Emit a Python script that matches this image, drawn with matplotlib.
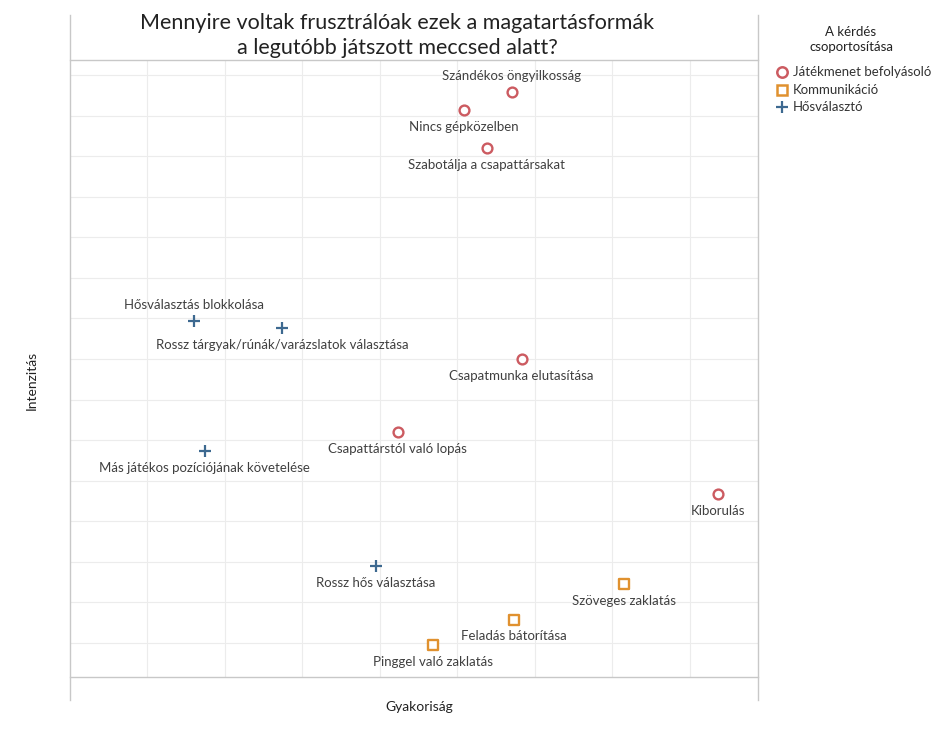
import matplotlib
matplotlib.use("Agg")
import matplotlib.pyplot as plt
from matplotlib.lines import Line2D

plt.rcParams['font.family'] = ['Lato', 'DejaVu Sans']

# Adatok
labels = [
    "Szándékos öngyilkosság", "Nincs gépközelben", "Szabotálja a csapattársakat",
    "Csapatmunka elutasítása", "Csapattárstól való lopás", "Kiborulás",
    "Hősválasztás blokkolása", "Rossz tárgyak/rúnák/varázslatok választása",
    "Más játékos pozíciójának követelése", "Rossz hős választása",
    "Szöveges zaklatás", "Feladás bátorítása", "Pinggel való zaklatás",
]
gyakorisag = [5.70, 5.08, 5.38, 5.83, 4.23, 8.37, 1.60, 2.74, 1.74, 3.95, 7.15, 5.73, 4.68]
intenzitas = [14.58, 14.14, 13.20, 8.00, 6.20, 4.67, 8.94, 8.76, 5.73, 2.90, 2.45, 1.57, 0.95]
csoport = ["J", "J", "J", "J", "J", "J", "H", "H", "H", "H", "K", "K", "K"]
label_pos = ["above", "below", "below", "below", "below", "below",
             "above", "below", "below", "below", "below", "below", "below"]

groups = ["J", "K", "H"]
group_names = ["Játékmenet befolyásoló", "Kommunikáció", "Hősválasztó"]
group_colors = {"J": "#cc5b61", "K": "#e0912f", "H": "#3d6990"}
group_markers = {"J": "o", "K": "s", "H": "+"}

W, H = 938, 741
fig = plt.figure(figsize=(W / 100, H / 100), dpi=100)
ax = fig.add_axes([70 / W, 1 - 677 / H, 688 / W, 617 / H])

for g in groups:
    xs = [x for x, c in zip(gyakorisag, csoport) if c == g]
    ys = [y for y, c in zip(intenzitas, csoport) if c == g]
    if g == "H":
        ax.scatter(xs, ys, marker="+", s=80, color=group_colors[g], linewidths=1.6, zorder=3)
    else:
        ax.scatter(xs, ys, marker=group_markers[g], s=50, facecolors="white",
                   edgecolors=group_colors[g], linewidths=1.7, zorder=3)

for lab, x, y, p in zip(labels, gyakorisag, intenzitas, label_pos):
    dy = 11.5 if p == "above" else -12
    ax.annotate(lab, (x, y), xytext=(0, dy), textcoords="offset points",
                ha="center", va="center", fontsize=9.5, color="#404040")

ax.set_xlim(0, 8.88)
ax.set_ylim(0.16, 15.37)
ax.set_xticks(range(1, 9))
ax.set_yticks(range(1, 16))
ax.tick_params(length=0, labelbottom=False, labelleft=False)
ax.grid(True, color="#ececec", linewidth=0.8, zorder=0)
for s in ax.spines.values():
    s.set_visible(False)

# keret
fc = "#c8c8c8"
for xp in (70, 758):
    fig.add_artist(Line2D([xp / W, xp / W], [1 - 15 / H, 1 - 700 / H], color=fc, lw=1))
for yp in (60, 677):
    fig.add_artist(Line2D([70 / W, 758 / W], [1 - yp / H, 1 - yp / H], color=fc, lw=1))

fig.text(397 / W, 1 - 23 / H, "Mennyire voltak frusztrálóak ezek a magatartásformák",
         ha="center", va="center", fontsize=15.5, color="#222222")
fig.text(397 / W, 1 - 48 / H, "a legutóbb játszott meccsed alatt?",
         ha="center", va="center", fontsize=15.5, color="#222222")
fig.text(419 / W, 1 - 707 / H, "Gyakoriság", ha="center", va="center", fontsize=10, color="#222222")
fig.text(32 / W, 1 - 380 / H, "Intenzitás", ha="center", va="center", rotation=90,
         fontsize=10, color="#222222")

# jelmagyarázat
fig.text(851 / W, 1 - 32 / H, "A kérdés", ha="center", va="center", fontsize=9.5, color="#222222")
fig.text(851 / W, 1 - 47 / H, "csoportosítása", ha="center", va="center", fontsize=9.5, color="#222222")
leg_y = [72, 90, 107]
for g, n, yp in zip(groups, group_names, leg_y):
    if g == "H":
        h = Line2D([782 / W], [1 - yp / H], marker="+", linestyle="none", color=group_colors[g],
                   markersize=9, markeredgewidth=1.6)
    else:
        h = Line2D([782 / W], [1 - yp / H], marker=group_markers[g], linestyle="none",
                   markerfacecolor="white", markeredgecolor=group_colors[g],
                   markersize=7.5, markeredgewidth=1.8)
    fig.add_artist(h)
    fig.text(793 / W, 1 - yp / H, n, ha="left", va="center", fontsize=9.5, color="#333333")

fig.savefig("out.png", dpi=100)
